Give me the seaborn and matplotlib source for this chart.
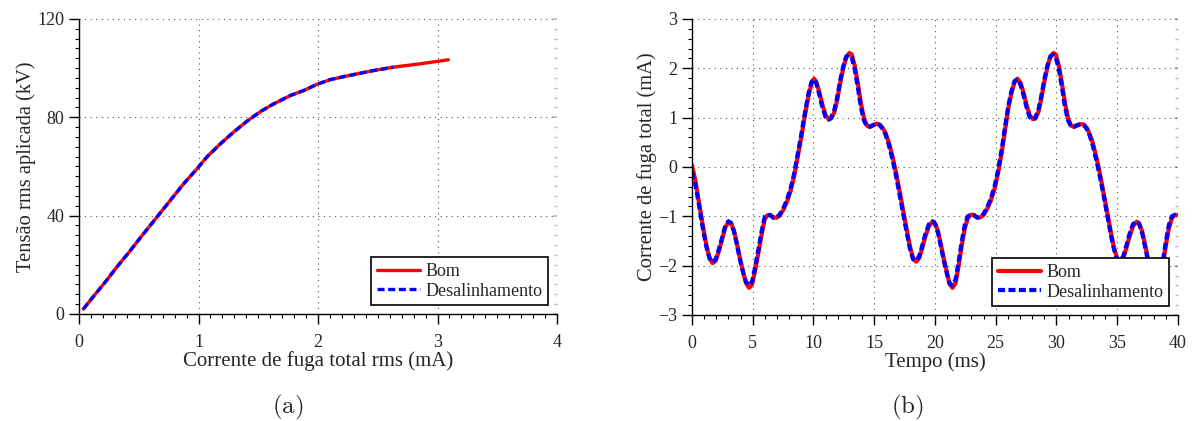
import numpy as np
import pandas as pd
import seaborn as sns
import matplotlib
matplotlib.use("Agg")
import matplotlib.pyplot as plt
from matplotlib.ticker import MultipleLocator

# (a) tensao aplicada x corrente de fuga rms
i_rms_bom = [0.036, 0.125, 0.223, 0.32, 0.418, 0.516, 0.655, 0.767, 0.878, 0.99, 1.07,
             1.185, 1.296, 1.408, 1.52, 1.63, 1.77, 1.88, 1.99, 2.10, 2.22, 2.44, 2.63,
             2.86, 3.09]
v_bom = [2.0, 7.4, 13.2, 19.3, 25.1, 31.2, 39.6, 46.4, 53.1, 59.2, 63.9, 69.3, 74.1,
         78.5, 82.4, 85.5, 88.9, 90.9, 93.4, 95.3, 96.6, 98.8, 100.4, 101.8, 103.4]
i_rms_des = i_rms_bom[:23]
v_des = v_bom[:23]

# (b) forma de onda da corrente de fuga total
t_ms = [0.0, 0.3, 0.6, 0.9, 1.2, 1.45, 1.7, 1.95, 2.2, 2.5, 2.75, 3.0, 3.2, 3.45, 3.7,
        3.95, 4.2, 4.45, 4.7, 4.95, 5.2, 5.5, 5.75, 6.0, 6.2, 6.45, 6.7, 6.95, 7.2, 7.5,
        7.8, 8.1, 8.4, 8.7, 9.0, 9.3, 9.6, 9.85, 10.05, 10.25, 10.5, 10.75, 11.0, 11.25,
        11.45, 11.7, 11.95, 12.2, 12.45, 12.7, 12.95, 13.15, 13.4, 13.65, 13.9, 14.15,
        14.4, 14.65, 14.9, 15.2, 15.45, 15.7, 15.95, 16.2, 16.5, 16.8, 17.1, 17.4, 17.7,
        17.95, 18.2, 18.45, 18.7, 18.95, 19.2, 19.5, 19.8, 20.0, 20.25, 20.5, 20.75,
        21.0, 21.2, 21.45, 21.7, 21.95, 22.2, 22.45, 22.7, 22.95, 23.2, 23.5, 23.75,
        24.0, 24.3, 24.6, 24.9, 25.2, 25.5, 25.8, 26.05, 26.3, 26.55, 26.8, 27.05, 27.3,
        27.55, 27.8, 28.05, 28.25, 28.5, 28.75, 29.0, 29.25, 29.5, 29.75, 29.95, 30.2,
        30.45, 30.7, 30.95, 31.2, 31.45, 31.7, 32.0, 32.25, 32.5, 32.75, 33.0, 33.3,
        33.6, 33.9, 34.2, 34.5, 34.75, 35.0, 35.25, 35.5, 35.75, 36.0, 36.3, 36.6, 36.8,
        37.05, 37.3, 37.55, 37.8, 38.0, 38.25, 38.5, 38.75, 39.0, 39.25, 39.5, 39.75,
        40.0]
i_bom = [0.04, -0.3, -0.75, -1.2, -1.6, -1.85, -1.95, -1.9, -1.72, -1.45, -1.22, -1.12,
         -1.13, -1.28, -1.55, -1.85, -2.12, -2.35, -2.45, -2.38, -2.1, -1.7, -1.35, -1.05,
         -0.98, -0.97, -1.02, -1.03, -0.99, -0.88, -0.72, -0.5, -0.2, 0.2, 0.6, 1.05,
         1.45, 1.7, 1.79, 1.72, 1.5, 1.25, 1.05, 0.97, 0.98, 1.1, 1.35, 1.7, 2.0, 2.22,
         2.31, 2.28, 2.05, 1.7, 1.3, 1.0, 0.84, 0.81, 0.84, 0.88, 0.86, 0.79, 0.68, 0.5,
         0.22, -0.12, -0.5, -0.9, -1.3, -1.62, -1.85, -1.92, -1.85, -1.65, -1.42, -1.2,
         -1.11, -1.14, -1.3, -1.58, -1.88, -2.15, -2.37, -2.45, -2.35, -2.0, -1.6, -1.25,
         -1.04, -0.97, -0.97, -1.02, -1.02, -0.97, -0.85, -0.68, -0.45, -0.12, 0.3, 0.8,
         1.2, 1.5, 1.72, 1.79, 1.7, 1.5, 1.25, 1.05, 0.97, 0.98, 1.1, 1.38, 1.72, 2.02,
         2.24, 2.31, 2.28, 2.05, 1.7, 1.3, 1.0, 0.84, 0.81, 0.84, 0.87, 0.86, 0.79, 0.66,
         0.48, 0.18, -0.16, -0.55, -0.95, -1.35, -1.65, -1.86, -1.92, -1.85, -1.65, -1.42,
         -1.2, -1.11, -1.14, -1.3, -1.58, -1.88, -2.15, -2.37, -2.45, -2.35, -2.0, -1.6,
         -1.25, -1.04, -0.97, -0.98]
i_des = [-0.1, -0.38, -0.8, -1.25, -1.63, -1.85, -1.93, -1.87, -1.68, -1.42, -1.18, -1.1,
         -1.13, -1.3, -1.57, -1.87, -2.13, -2.33, -2.4, -2.32, -2.03, -1.63, -1.28, -1.0,
         -0.97, -0.98, -1.03, -1.02, -0.97, -0.85, -0.68, -0.45, -0.15, 0.26, 0.66, 1.1,
         1.5, 1.73, 1.78, 1.68, 1.45, 1.2, 1.01, 0.96, 1.0, 1.14, 1.4, 1.75, 2.04, 2.24,
         2.27, 2.22, 1.98, 1.62, 1.22, 0.95, 0.82, 0.82, 0.85, 0.88, 0.85, 0.77, 0.65,
         0.45, 0.16, -0.18, -0.57, -0.97, -1.36, -1.66, -1.87, -1.9, -1.81, -1.6, -1.37,
         -1.16, -1.1, -1.15, -1.33, -1.62, -1.92, -2.18, -2.36, -2.4, -2.28, -1.92, -1.52,
         -1.18, -1.0, -0.97, -0.98, -1.03, -1.01, -0.95, -0.82, -0.64, -0.4, -0.06, 0.36,
         0.86, 1.25, 1.54, 1.74, 1.78, 1.66, 1.45, 1.2, 1.01, 0.96, 1.0, 1.14, 1.43, 1.77,
         2.05, 2.24, 2.27, 2.22, 1.98, 1.62, 1.22, 0.95, 0.82, 0.82, 0.85, 0.87, 0.85,
         0.77, 0.63, 0.43, 0.12, -0.22, -0.6, -1.0, -1.4, -1.68, -1.87, -1.9, -1.81,
         -1.6, -1.37, -1.16, -1.1, -1.15, -1.33, -1.62, -1.92, -2.18, -2.36, -2.4, -2.28,
         -1.92, -1.52, -1.18, -1.0, -0.97, -0.98]

sns.set_theme(style="white")
plt.rcParams['font.family'] = ['Liberation Serif', 'DejaVu Serif']
plt.rcParams['axes.unicode_minus'] = True
plt.rcParams['mathtext.fontset'] = 'cm'

fig = plt.figure(figsize=(11.92, 4.21), dpi=100)
ax1 = fig.add_axes([0.0663, 0.2542, 0.401, 0.7007])
ax2 = fig.add_axes([0.5805, 0.2518, 0.4077, 0.7031])

df_a = pd.concat([
    pd.DataFrame({'x': i_rms_bom, 'y': v_bom, 'caso': 'Bom'}),
    pd.DataFrame({'x': i_rms_des, 'y': v_des, 'caso': 'Desalinhamento'}),
])
df_b = pd.concat([
    pd.DataFrame({'x': t_ms, 'y': i_bom, 'caso': 'Bom'}),
    pd.DataFrame({'x': t_ms, 'y': i_des, 'caso': 'Desalinhamento'}),
])

pal = {'Bom': '#ff0000', 'Desalinhamento': '#0000ff'}

for ax, df, lw, dsh in [(ax1, df_a, 2.4, (2.1, 1.1)), (ax2, df_b, 3.0, (1.7, 0.8))]:
    sns.lineplot(data=df, x='x', y='y', hue='caso', style='caso', palette=pal,
                 dashes={'Bom': '', 'Desalinhamento': dsh}, sort=False,
                 estimator=None, linewidth=lw, ax=ax)

ax1.set_xlim(0, 4)
ax1.set_ylim(0, 120)
ax1.xaxis.set_major_locator(MultipleLocator(1))
ax1.xaxis.set_minor_locator(MultipleLocator(0.1))
ax1.yaxis.set_major_locator(MultipleLocator(40))
ax1.yaxis.set_minor_locator(MultipleLocator(4))
ax1.set_xlabel('Corrente de fuga total rms (mA)', fontsize=15, labelpad=0)
ax1.set_ylabel('Tensão rms aplicada (kV)', fontsize=14.8, labelpad=1)

ax2.set_xlim(0, 40)
ax2.set_ylim(-3, 3)
ax2.xaxis.set_major_locator(MultipleLocator(5))
ax2.xaxis.set_minor_locator(MultipleLocator(1))
ax2.yaxis.set_major_locator(MultipleLocator(1))
ax2.yaxis.set_minor_locator(MultipleLocator(0.2))
ax2.set_xlabel('Tempo (ms)', fontsize=15, labelpad=0)
ax2.set_ylabel('Corrente de fuga total (mA)', fontsize=14.8, labelpad=1)

for ax in (ax1, ax2):
    for s in ('top', 'right'):
        ax.spines[s].set_visible(False)
    for s in ('left', 'bottom'):
        ax.spines[s].set_color('black')
        ax.spines[s].set_linewidth(1.0)
    ax.grid(True, which='major', linestyle=(0, (1, 4)), color='#555555', linewidth=0.8)
    ax.tick_params(axis='x', which='major', direction='out', length=7, width=1,
                   color='black', labelsize=13, bottom=True, top=False, pad=7.5)
    ax.tick_params(axis='x', which='minor', direction='out', length=3.2, width=0.8,
                   color='black', bottom=True, top=False)
    ax.tick_params(axis='y', which='major', direction='out', length=7, width=1,
                   color='black', labelsize=13, left=True, right=False, pad=3.5)
    ax.tick_params(axis='y', which='minor', direction='out', length=3.2, width=0.8,
                   color='black', left=True, right=False)
    # faint marks on the right edge
    sec = ax.secondary_yaxis('right')
    sec.yaxis.set_major_locator(ax.yaxis.get_major_locator())
    sec.yaxis.set_minor_locator(ax.yaxis.get_minor_locator())
    sec.spines['right'].set_visible(False)
    sec.tick_params(which='major', direction='in', length=3, color='#bbbbbb',
                    labelright=False)
    sec.tick_params(which='minor', direction='in', length=2, color='#bbbbbb')
    leg = ax.legend(loc='lower right', fontsize=13, frameon=True, fancybox=False,
                    framealpha=1, edgecolor='black', handlelength=2.4, borderpad=0.3,
                    labelspacing=0.15, handletextpad=0.3, borderaxespad=0.5)
    leg.get_frame().set_linewidth(1.2)

fig.text(0.2416, 0.031, r'$\mathrm{(a)}$', ha='center', va='center', fontsize=18)
fig.text(0.761, 0.031, r'$\mathrm{(b)}$', ha='center', va='center', fontsize=18)

fig.savefig('out.png', dpi=100)
